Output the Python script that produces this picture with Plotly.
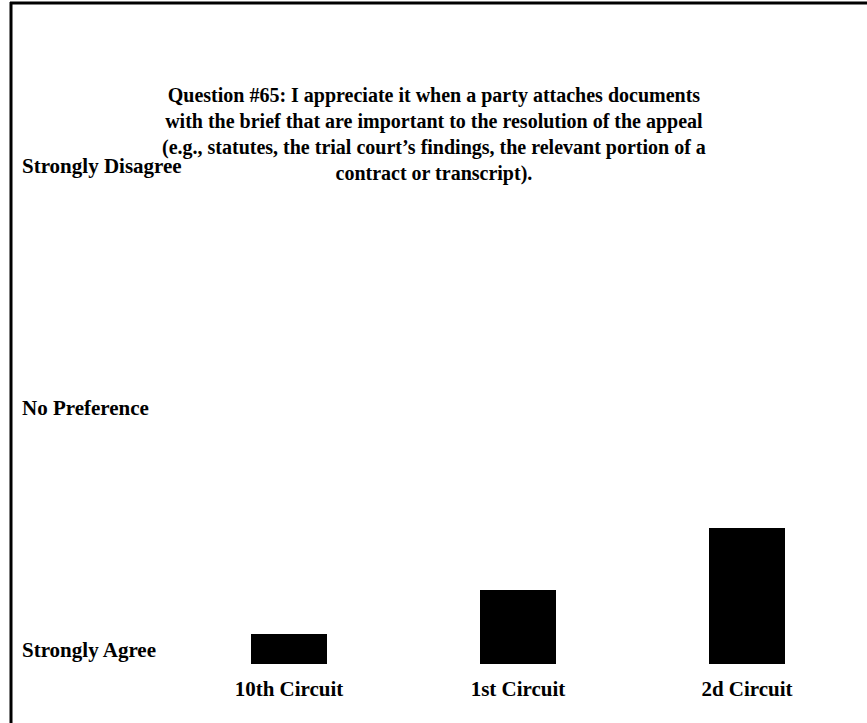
import plotly.graph_objects as go

# Data
circuits = ["10th Circuit", "1st Circuit", "2d Circuit"]
mean_response = [1.25, 1.61, 2.12]  # 1 = Strongly Agree, 3 = No Preference, 5 = Strongly Disagree
scale_values = [1, 3, 5]
scale_labels = ["Strongly Agree", "No Preference", "Strongly Disagree"]
title_lines = [
    "Question #65: I appreciate it when a party attaches documents",
    "with the brief that are important to the resolution of the appeal",
    "(e.g., statutes, the trial court\u2019s findings, the relevant portion of a",
    "contract or transcript).",
]

W, H = 867, 723
T, B = 150, 59
plot_h = H - T - B
FONT = "Liberation Serif, Times New Roman, serif"

def py(pixel):
    return (H - B - pixel) / plot_h

fig = go.Figure(go.Bar(
    x=list(range(len(circuits))),
    y=mean_response,
    width=0.33,
    marker=dict(color="black", line=dict(width=0)),
    hoverinfo="skip",
))

annotations = [dict(
    text="<br>".join(f"<b>{t}</b>" for t in title_lines),
    xref="paper", yref="paper", x=0.5, y=py(134), xanchor="center", yanchor="middle",
    showarrow=False, align="center",
    font=dict(family=FONT, size=20, color="black"),
)]
for v, lab in zip(scale_values, scale_labels):
    annotations.append(dict(text=f"<b>{lab}</b>", xref="paper", yref="y",
                            x=20 / W, y=v, xanchor="left", yanchor="middle", yshift=14,
                            showarrow=False, font=dict(family=FONT, size=21, color="black")))

fig.update_layout(
    width=W, height=H,
    margin=dict(l=0, r=0, t=T, b=B),
    paper_bgcolor="white", plot_bgcolor="white",
    showlegend=False,
    bargap=0,
    xaxis=dict(range=[-289 / 229, (W - 289) / 229], tickmode="array",
               tickvals=list(range(len(circuits))),
               ticktext=[f"<b>{c}</b>" for c in circuits],
               showgrid=False, zeroline=False, showline=False, ticks="",
               ticklabelstandoff=10,
               tickfont=dict(family=FONT, size=21, color="black")),
    yaxis=dict(range=[1, 1 + plot_h / 121], showticklabels=False, showgrid=False,
               zeroline=False, showline=False, ticks=""),
    annotations=annotations,
    shapes=[
        dict(type="line", xref="paper", yref="paper", x0=10 / W, x1=1, y0=py(3), y1=py(3),
             line=dict(color="black", width=3)),
        dict(type="line", xref="paper", yref="paper", x0=11 / W, x1=11 / W, y0=py(2), y1=py(H),
             line=dict(color="black", width=3)),
    ],
)

fig.write_html("out.html", config={"displayModeBar": False},
               post_script="document.body.style.margin='0';")
